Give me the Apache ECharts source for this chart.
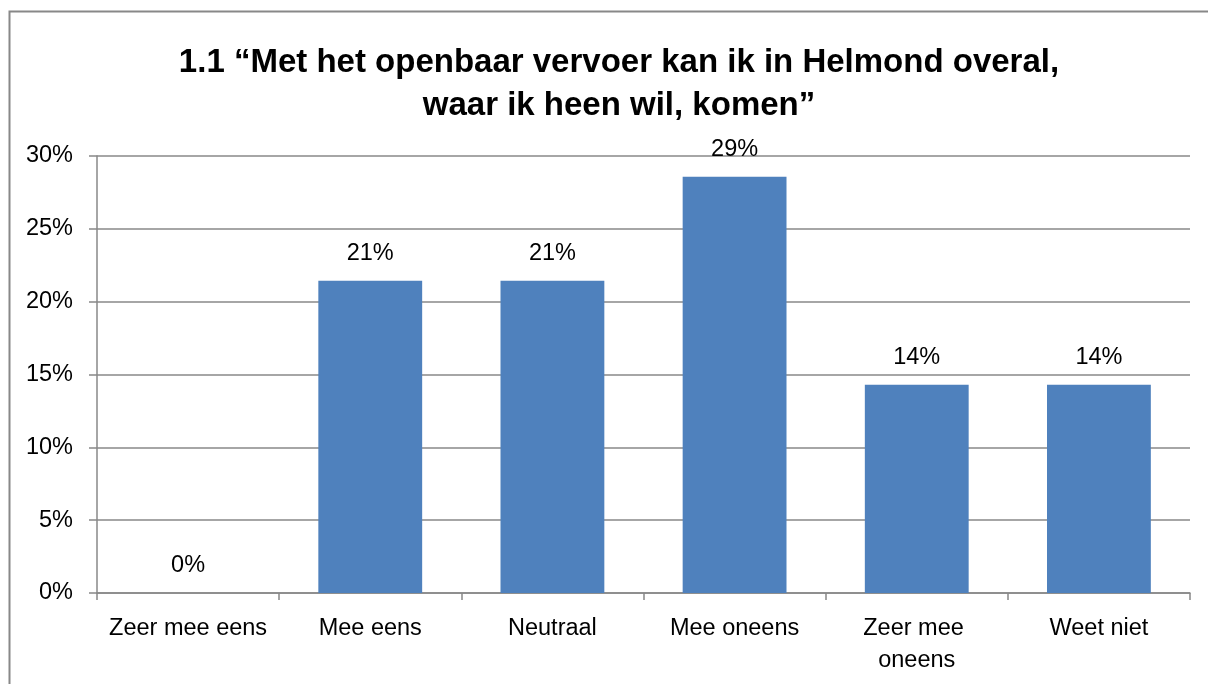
<!DOCTYPE html>
<html>
<head>
<meta charset="utf-8">
<script src="https://cdn.jsdelivr.net/npm/echarts@6/dist/echarts.min.js"></script>
<style>
html,body{margin:0;padding:0;background:#fff;}
#chart{width:1208px;height:684px;}
</style>
</head>
<body>
<div id="chart"></div>
<script>
var categories = ['Zeer mee eens', 'Mee eens', 'Neutraal', 'Mee oneens', 'Zeer mee oneens', 'Weet niet'];
var values = [0, 21.43, 21.43, 28.57, 14.29, 14.29];
var yTicks = [0, 5, 10, 15, 20, 25, 30];
var titleText = '1.1 \u201cMet het openbaar vervoer kan ik in Helmond overal,\nwaar ik heen wil, komen\u201d';

var font = '"Liberation Sans", Arial, sans-serif';
var myChart = echarts.init(document.getElementById('chart'));

option = {
    backgroundColor: '#fff',
    animation: false,
    title: {
        text: titleText,
        left: 614,
        top: 36,
        textAlign: 'center',
        textStyle: {
            fontFamily: font,
            fontSize: 33,
            fontWeight: 'bold',
            color: '#000',
            lineHeight: 43
        }
    },
    graphic: [{
        type: 'rect',
        shape: {x: 9.5, y: 11.5, width: 1220, height: 700},
        style: {fill: 'none', stroke: '#888', lineWidth: 2}
    }],
    grid: {
        left: 97,
        right: 18,
        top: 156,
        bottom: 91
    },
    xAxis: {
        type: 'category',
        data: categories,
        axisLine: {lineStyle: {color: '#888', width: 1.5}},
        axisTick: {show: true, length: 7, lineStyle: {color: '#888', width: 1.5}},
        axisLabel: {
            margin: 20,
            color: '#000',
            fontFamily: font,
            fontSize: 23.5,
            lineHeight: 32,
            width: 165,
            overflow: 'break',
            interval: 0
        }
    },
    yAxis: {
        type: 'value',
        min: yTicks[0],
        max: yTicks[yTicks.length - 1],
        interval: yTicks[1] - yTicks[0],
        axisLine: {show: true, lineStyle: {color: '#888', width: 1.5}},
        axisTick: {show: true, length: 8, lineStyle: {color: '#888', width: 1.5}},
        splitLine: {lineStyle: {color: '#888', width: 1.5}},
        axisLabel: {
            margin: 24,
            color: '#000',
            fontFamily: font,
            fontSize: 23.5,
            formatter: '{value}%'
        }
    },
    series: [{
        type: 'bar',
        data: values,
        barWidth: '57%',
        itemStyle: {color: '#4F81BD'},
        label: {
            show: true,
            position: 'top',
            distance: 15,
            color: '#000',
            fontFamily: font,
            fontSize: 23.5,
            formatter: function (p) {
                return Math.round(p.value) + '%';
            }
        }
    }]
};

myChart.setOption(option);
</script>
</body>
</html>
